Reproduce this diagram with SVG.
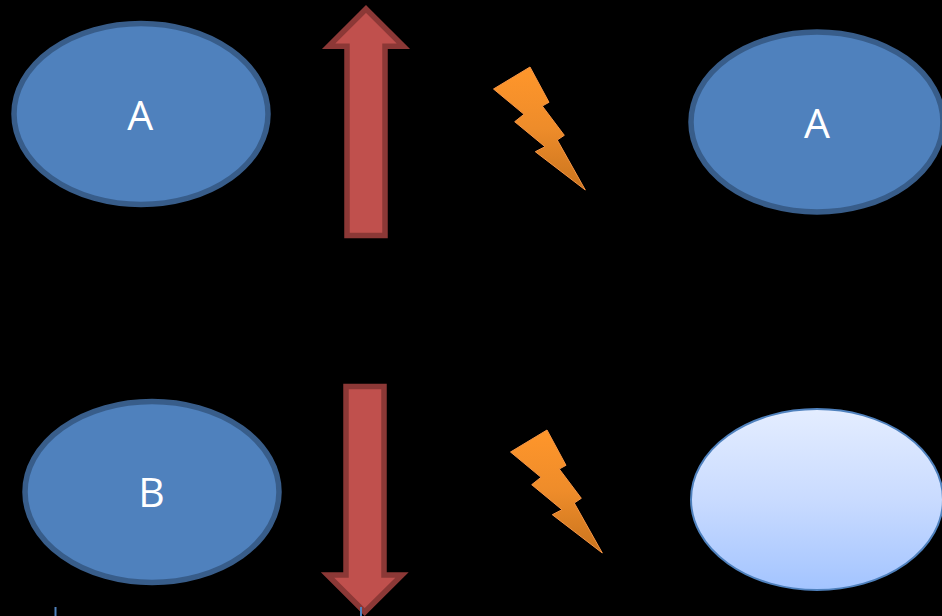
<svg xmlns="http://www.w3.org/2000/svg" width="942" height="616" viewBox="0 0 942 616">
<style>
.solid{fill:#4f81bd;stroke:#385d8a;stroke-width:5.5}
.arrow{fill:#c0504d;stroke:#8c3836;stroke-width:5.5;stroke-miterlimit:10}
.label{font-family:"Open Sans","Lato",sans-serif;font-size:41px;fill:#fff;text-anchor:middle}
.bolt{fill:url(#boltFill);stroke:#f79646;stroke-width:1}
.tick{stroke:#4f81bd;stroke-width:2;fill:none}
</style>
<defs>
<linearGradient id="boltFill" x1="0" y1="0" x2="0" y2="1"><stop offset="0" stop-color="#ff962b"/><stop offset="0.5" stop-color="#ee8c2a"/><stop offset="1" stop-color="#c9741e"/></linearGradient>
<linearGradient id="paleFill" x1="0" y1="0" x2="0" y2="1"><stop offset="0" stop-color="#e4edff"/><stop offset="0.5" stop-color="#c9dbff"/><stop offset="1" stop-color="#a3c4ff"/></linearGradient>
<polygon id="boltShape" points="530,67 549,102.3 542.3,106 564.3,135.3 557.3,140 585.3,190 535.3,151.7 545,146.7 514.7,121.7 524,114.3 493.5,89"/>
</defs>
<rect width="942" height="616" fill="#000"/>
<g id="node-a-left"><ellipse class="solid" cx="141" cy="114" rx="127" ry="90.5"/><text class="label" x="140.3" y="129.5">A</text></g>
<g id="node-a-right"><ellipse class="solid" cx="817" cy="122" rx="126" ry="90"/><text class="label" x="817" y="137.5">A</text></g>
<g id="node-b-left"><ellipse class="solid" cx="152" cy="492" rx="127" ry="90.5"/><text class="label" x="151.5" y="507">B</text></g>
<g id="node-pale"><ellipse cx="817" cy="499.5" rx="126" ry="90.5" fill="url(#paleFill)" stroke="#4f81bd" stroke-width="2"/></g>
<g id="arrow-up"><polygon class="arrow" points="366,9 403.4,46.3 385,46.3 385,235.5 347,235.5 347,46.3 328.6,46.3"/></g>
<g id="arrow-down"><polygon class="arrow" points="346,386.5 384,386.5 384,575 402,575 364.7,612 327.5,575 346,575"/></g>
<g id="bolt-top"><use href="#boltShape" class="bolt"/></g>
<g id="bolt-bottom"><use href="#boltShape" class="bolt" transform="translate(17 363)"/></g>
<g id="connectors"><line class="tick" x1="55.5" y1="607" x2="55.5" y2="616"/><line class="tick" x1="361" y1="607" x2="361" y2="616"/></g>
</svg>
